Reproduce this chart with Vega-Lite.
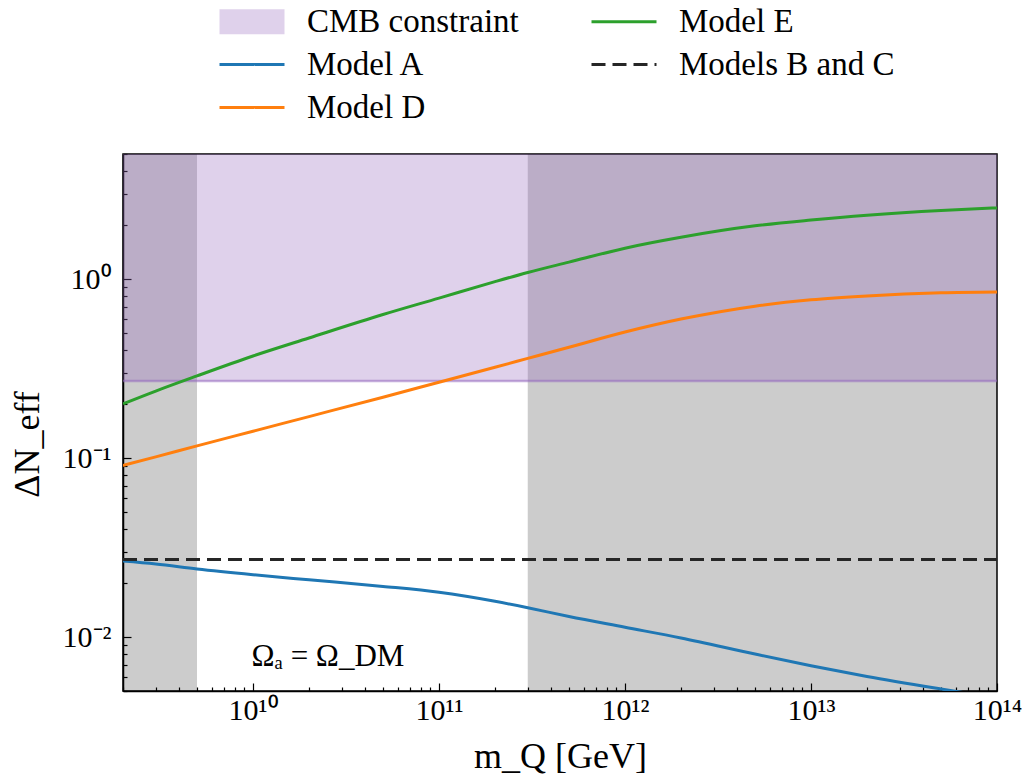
{
  "$schema": "https://vega.github.io/schema/vega-lite/v6.json",
  "width": 874,
  "height": 537,
  "autosize": {"type": "none"},
  "padding": {"left": 123, "top": 154, "right": 32, "bottom": 87},
  "background": "white",
  "config": {
    "view": {"stroke": "black", "strokeWidth": 1.5},
    "font": "Liberation Serif",
    "axis": {
      "labelFont": "Liberation Serif",
      "titleFont": "Liberation Serif",
      "labelFontSize": 30,
      "titleFontSize": 36,
      "labelColor": "black",
      "titleColor": "black",
      "titleFontWeight": "normal",
      "domainColor": "black",
      "domainWidth": 1.5,
      "tickColor": "black",
      "tickWidth": 1.2,
      "grid": false,
      "labelOverlap": false,
      "labelFlush": false
    },
    "legend": {
      "labelFont": "Liberation Serif",
      "labelFontSize": 33,
      "labelColor": "black",
      "labelLimit": 500,
      "orient": "none",
      "legendX": 107.5,
      "legendY": -154,
      "columns": 2,
      "columnPadding": 66,
      "rowPadding": 4,
      "symbolSize": 1600,
      "symbolType": "M-1.625,0H1.625",
      "symbolStrokeWidth": 3,
      "symbolOpacity": 1,
      "labelOffset": 33.5
    }
  },
  "datasets": {
    "regions": [
      {"x1": 2000000000, "x2": 5000000000},
      {"x1": 300000000000, "x2": 100000000000000}
    ],
    "cmb": [
      {"series": "CMB constraint", "x1": 2000000000, "x2": 100000000000000, "y1": 0.27, "y2": 5}
    ],
    "curves": [
      {"series": "Model E", "m": 2e9, "dn": 0.201},
      {"series": "Model E", "m": 3e9, "dn": 0.237},
      {"series": "Model E", "m": 5e9, "dn": 0.288},
      {"series": "Model E", "m": 1e10, "dn": 0.372},
      {"series": "Model E", "m": 2e10, "dn": 0.469},
      {"series": "Model E", "m": 5e10, "dn": 0.634},
      {"series": "Model E", "m": 1e11, "dn": 0.783},
      {"series": "Model E", "m": 2e11, "dn": 0.968},
      {"series": "Model E", "m": 3e11, "dn": 1.089},
      {"series": "Model E", "m": 5e11, "dn": 1.245},
      {"series": "Model E", "m": 1e12, "dn": 1.489},
      {"series": "Model E", "m": 2e12, "dn": 1.713},
      {"series": "Model E", "m": 5e12, "dn": 1.984},
      {"series": "Model E", "m": 1e13, "dn": 2.138},
      {"series": "Model E", "m": 2e13, "dn": 2.276},
      {"series": "Model E", "m": 5e13, "dn": 2.42},
      {"series": "Model E", "m": 1e14, "dn": 2.5},
      {"series": "Model D", "m": 2e9, "dn": 0.091},
      {"series": "Model D", "m": 3e9, "dn": 0.1016},
      {"series": "Model D", "m": 5e9, "dn": 0.117},
      {"series": "Model D", "m": 1e10, "dn": 0.1413},
      {"series": "Model D", "m": 2e10, "dn": 0.1706},
      {"series": "Model D", "m": 5e10, "dn": 0.219},
      {"series": "Model D", "m": 1e11, "dn": 0.2655},
      {"series": "Model D", "m": 2e11, "dn": 0.322},
      {"series": "Model D", "m": 3e11, "dn": 0.3606},
      {"series": "Model D", "m": 5e11, "dn": 0.416},
      {"series": "Model D", "m": 1e12, "dn": 0.506},
      {"series": "Model D", "m": 2e12, "dn": 0.598},
      {"series": "Model D", "m": 5e12, "dn": 0.706},
      {"series": "Model D", "m": 1e13, "dn": 0.766},
      {"series": "Model D", "m": 2e13, "dn": 0.805},
      {"series": "Model D", "m": 5e13, "dn": 0.838},
      {"series": "Model D", "m": 1e14, "dn": 0.847},
      {"series": "Model A", "m": 2e9, "dn": 0.0266},
      {"series": "Model A", "m": 3e9, "dn": 0.0256},
      {"series": "Model A", "m": 5e9, "dn": 0.024},
      {"series": "Model A", "m": 1e10, "dn": 0.0223},
      {"series": "Model A", "m": 2e10, "dn": 0.0209},
      {"series": "Model A", "m": 5e10, "dn": 0.0192},
      {"series": "Model A", "m": 1e11, "dn": 0.0178},
      {"series": "Model A", "m": 2e11, "dn": 0.01585},
      {"series": "Model A", "m": 3e11, "dn": 0.01459},
      {"series": "Model A", "m": 5e11, "dn": 0.01303},
      {"series": "Model A", "m": 1e12, "dn": 0.01135},
      {"series": "Model A", "m": 2e12, "dn": 0.00989},
      {"series": "Model A", "m": 5e12, "dn": 0.00804},
      {"series": "Model A", "m": 1e13, "dn": 0.00692},
      {"series": "Model A", "m": 2e13, "dn": 0.00603},
      {"series": "Model A", "m": 5e13, "dn": 0.00513},
      {"series": "Model A", "m": 1e14, "dn": 0.00457}
    ],
    "bc": [
      {"series": "Models B and C", "m": 2e9, "dn": 0.0271},
      {"series": "Models B and C", "m": 1e14, "dn": 0.0271}
    ],
    "note": [
      {"m": 9.8e9, "dn": 0.0077, "text": "Ωₐ = Ω_DM"}
    ]
  },
  "layer": [
    {
      "data": {"name": "regions"},
      "mark": {"type": "rect", "color": "black", "opacity": 0.2},
      "encoding": {
        "x": {
          "field": "x1", "type": "quantitative",
          "scale": {"type": "log", "domain": [2000000000, 100000000000000], "nice": false, "zero": false},
          "axis": {
            "title": "m_Q [GeV]",
            "values": [2e9,3e9,4e9,5e9,6e9,7e9,8e9,9e9,1e10,2e10,3e10,4e10,5e10,6e10,7e10,8e10,9e10,1e11,2e11,3e11,4e11,5e11,6e11,7e11,8e11,9e11,1e12,2e12,3e12,4e12,5e12,6e12,7e12,8e12,9e12,1e13,2e13,3e13,4e13,5e13,6e13,7e13,8e13,9e13,1e14],
            "labelExpr": "datum.value == 1e10 ? '10¹⁰' : datum.value == 1e11 ? '10¹¹' : datum.value == 1e12 ? '10¹²' : datum.value == 1e13 ? '10¹³' : datum.value == 1e14 ? '10¹⁴' : ''",
            "tickSize": {"condition": {"test": "indexof([1e10,1e11,1e12,1e13,1e14], datum.value) >= 0", "value": -8}, "value": -4},
            "labelPadding": 12,
            "titlePadding": 10
          }
        },
        "x2": {"field": "x2"}
      }
    },
    {
      "data": {"name": "cmb"},
      "mark": {"type": "rect", "opacity": 0.3},
      "encoding": {
        "x": {"field": "x1", "type": "quantitative"},
        "x2": {"field": "x2"},
        "y": {
          "field": "y1", "type": "quantitative",
          "scale": {"type": "log", "domain": [0.005, 5], "nice": false, "zero": false},
          "axis": {
            "title": "ΔN_eff",
            "values": [0.005,0.006,0.007,0.008,0.009,0.01,0.02,0.03,0.04,0.05,0.06,0.07,0.08,0.09,0.1,0.2,0.3,0.4,0.5,0.6,0.7,0.8,0.9,1,2,3,4,5],
            "labelExpr": "datum.value == 0.01 ? '10⁻²' : datum.value == 0.1 ? '10⁻¹' : datum.value == 1 ? '10⁰' : ''",
            "tickSize": {"condition": {"test": "indexof([0.01,0.1,1], datum.value) >= 0", "value": -8}, "value": -4},
            "labelPadding": 20,
            "titlePadding": 16,
            "titleY": 290
          }
        },
        "y2": {"field": "y2"},
        "color": {
          "field": "series", "type": "nominal",
          "scale": {
            "domain": ["CMB constraint", "Model A", "Model D", "Model E", "Models B and C"],
            "range": ["#9467bd", "#1f77b4", "#ff7f0e", "#2ca02c", "#262626"]
          },
          "legend": {
            "title": null,
            "encoding": {
              "symbols": {
                "shape": {"value": {"expr": "datum.label === 'CMB constraint' ? 'M-1.625,-0.625H1.625V0.625H-1.625Z' : 'M-1.625,0H1.625'"}},
                "fill": {"value": {"expr": "datum.label === 'CMB constraint' ? '#9467bd' : 'transparent'"}},
                "fillOpacity": {"value": {"expr": "datum.label === 'CMB constraint' ? 0.3 : 0"}},
                "stroke": {"value": {"expr": "datum.label === 'CMB constraint' ? 'transparent' : scale('color', datum.value)"}},
                "strokeOpacity": {"value": {"expr": "datum.label === 'CMB constraint' ? 0 : 1"}},
                "strokeDash": {"value": {"expr": "datum.label === 'Models B and C' ? [14, 7] : [1, 0]"}},
                "strokeWidth": {"value": 3},
                "opacity": {"value": 1}
              }
            }
          }
        }
      }
    },
    {
      "data": {"name": "cmb"},
      "mark": {"type": "rule", "color": "#9467bd", "opacity": 0.55, "strokeWidth": 2.5},
      "encoding": {
        "y": {"field": "y1", "type": "quantitative"}
      }
    },
    {
      "data": {"name": "curves"},
      "mark": {"type": "line", "strokeWidth": 3, "clip": true, "interpolate": "monotone"},
      "encoding": {
        "x": {"field": "m", "type": "quantitative"},
        "y": {"field": "dn", "type": "quantitative"},
        "color": {
          "field": "series", "type": "nominal",
          "legend": {
            "title": null,
            "encoding": {
              "symbols": {
                "shape": {"value": {"expr": "datum.label === 'CMB constraint' ? 'M-1.625,-0.625H1.625V0.625H-1.625Z' : 'M-1.625,0H1.625'"}},
                "fill": {"value": {"expr": "datum.label === 'CMB constraint' ? '#9467bd' : 'transparent'"}},
                "fillOpacity": {"value": {"expr": "datum.label === 'CMB constraint' ? 0.3 : 0"}},
                "stroke": {"value": {"expr": "datum.label === 'CMB constraint' ? 'transparent' : scale('color', datum.value)"}},
                "strokeOpacity": {"value": {"expr": "datum.label === 'CMB constraint' ? 0 : 1"}},
                "strokeDash": {"value": {"expr": "datum.label === 'Models B and C' ? [14, 7] : [1, 0]"}},
                "strokeWidth": {"value": 3},
                "opacity": {"value": 1}
              }
            }
          }
        },
        "detail": {"field": "series"}
      }
    },
    {
      "data": {"name": "bc"},
      "mark": {"type": "line", "strokeWidth": 3, "strokeDash": [14, 7]},
      "encoding": {
        "x": {"field": "m", "type": "quantitative"},
        "y": {"field": "dn", "type": "quantitative"},
        "color": {
          "field": "series", "type": "nominal",
          "legend": {
            "title": null,
            "encoding": {
              "symbols": {
                "shape": {"value": {"expr": "datum.label === 'CMB constraint' ? 'M-1.625,-0.625H1.625V0.625H-1.625Z' : 'M-1.625,0H1.625'"}},
                "fill": {"value": {"expr": "datum.label === 'CMB constraint' ? '#9467bd' : 'transparent'"}},
                "fillOpacity": {"value": {"expr": "datum.label === 'CMB constraint' ? 0.3 : 0"}},
                "stroke": {"value": {"expr": "datum.label === 'CMB constraint' ? 'transparent' : scale('color', datum.value)"}},
                "strokeOpacity": {"value": {"expr": "datum.label === 'CMB constraint' ? 0 : 1"}},
                "strokeDash": {"value": {"expr": "datum.label === 'Models B and C' ? [14, 7] : [1, 0]"}},
                "strokeWidth": {"value": 3},
                "opacity": {"value": 1}
              }
            }
          }
        }
      }
    },
    {
      "data": {"name": "note"},
      "mark": {"type": "text", "align": "left", "baseline": "middle", "fontSize": 31, "font": "Liberation Serif", "color": "black"},
      "encoding": {
        "x": {"field": "m", "type": "quantitative"},
        "y": {"field": "dn", "type": "quantitative"},
        "text": {"field": "text"}
      }
    }
  ]
}
